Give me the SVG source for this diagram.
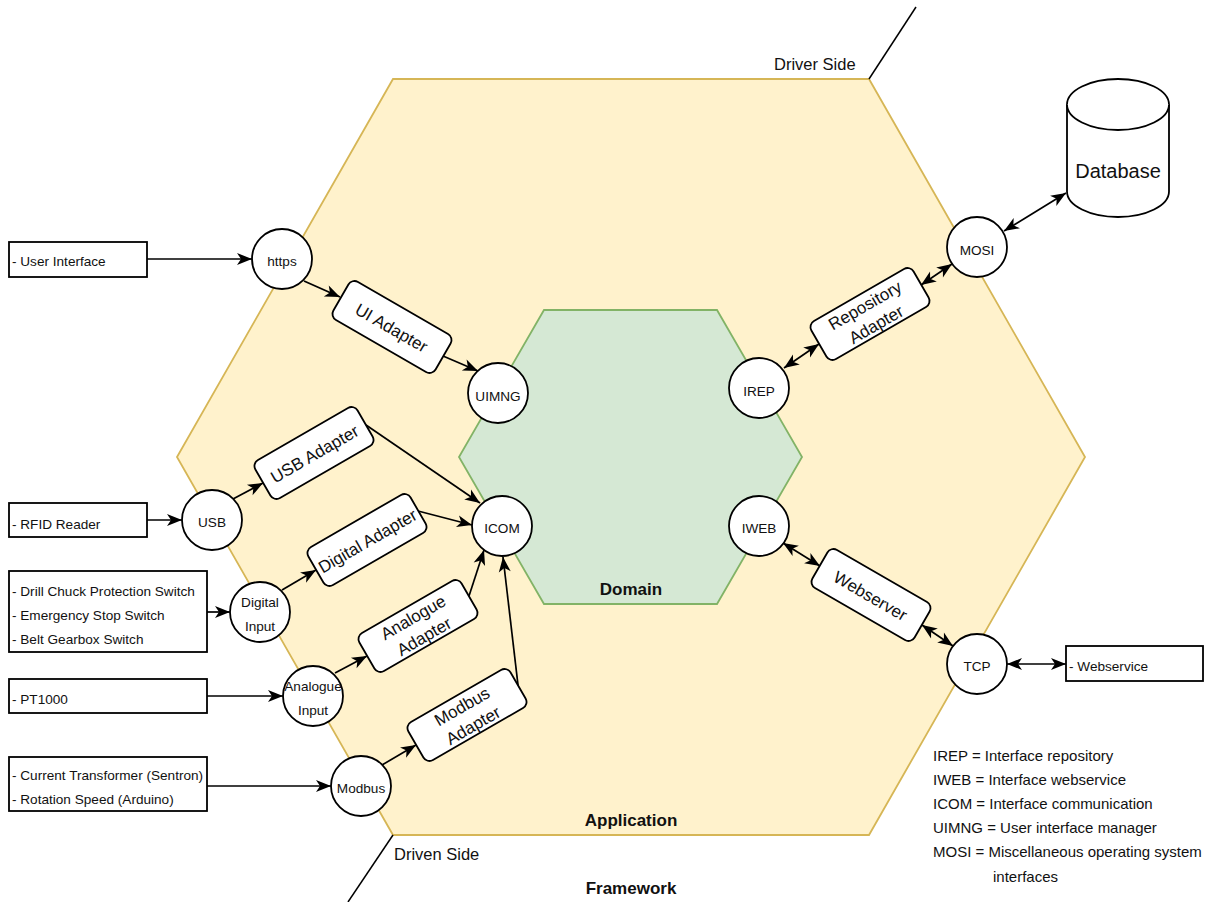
<svg xmlns="http://www.w3.org/2000/svg" width="1216" height="902" viewBox="0 0 1216 902">
<style>
text{font-family:"Liberation Sans",Arial,Helvetica,sans-serif;fill:#111}
.sm{font-size:13.6px}
.ad{font-size:17px}
.lb{font-size:16.5px}
.lg{font-size:15px}
.bd{font-size:17px;font-weight:bold}
.c{text-anchor:middle}
.node{fill:#fff;stroke:#000;stroke-width:1.8}
.conn{fill:none;stroke:#000;stroke-width:1.7}
</style>
<defs>
<marker id="arr" markerUnits="userSpaceOnUse" markerWidth="17" markerHeight="14" refX="15" refY="6" orient="auto-start-reverse" overflow="visible">
<path d="M0,0 L15,6 L0,12 L4,6 Z" fill="#000"/>
</marker>
</defs>
<rect width="1216" height="902" fill="#fff"/>

<g id="application">
<polygon points="393,79 869,79 1085,457 869,835 393,835 177,457" fill="#fff2cc" stroke="#d6b656" stroke-width="1.8"/>
<text class="bd c" x="631" y="826">Application</text>
</g>
<g id="domain">
<polygon points="544,310 717,310 802,457 717,604 544,604 459,457" fill="#d5e8d4" stroke="#82b366" stroke-width="1.8"/>
<text class="bd c" x="631" y="595">Domain</text>
</g>
<g id="sides">
<line x1="869" y1="79" x2="916" y2="7" stroke="#000" stroke-width="1.5"/>
<line x1="393" y1="835" x2="348" y2="902" stroke="#000" stroke-width="1.5"/>
<text class="lb" x="774" y="70">Driver Side</text>
<text class="lb" x="394" y="860">Driven Side</text>
<text class="bd c" x="631" y="894">Framework</text>
</g>

<g id="connectors">
<path class="conn" d="M147,259 L252,259" marker-end="url(#arr)"/>
<path class="conn" d="M304,281 L340,297" marker-end="url(#arr)"/>
<path class="conn" d="M443,356 L478,371" marker-end="url(#arr)"/>
<path class="conn" d="M147,520 L182,520" marker-end="url(#arr)"/>
<path class="conn" d="M233,499 L263,483" marker-end="url(#arr)"/>
<path class="conn" d="M366,425 L480,503" marker-end="url(#arr)"/>
<path class="conn" d="M207,612 L230,612" marker-end="url(#arr)"/>
<path class="conn" d="M282,590 L316,570" marker-end="url(#arr)"/>
<path class="conn" d="M418,511 L472,525" marker-end="url(#arr)"/>
<path class="conn" d="M207,696 L283,696" marker-end="url(#arr)"/>
<path class="conn" d="M335,673 L367,656" marker-end="url(#arr)"/>
<path class="conn" d="M469,596 L484,550" marker-end="url(#arr)"/>
<path class="conn" d="M207,786 L331,786" marker-end="url(#arr)"/>
<path class="conn" d="M382,765 L416,745" marker-end="url(#arr)"/>
<path class="conn" d="M518,685 L503,557" marker-end="url(#arr)"/>
<path class="conn" d="M784,368 L819,344" marker-start="url(#arr)" marker-end="url(#arr)"/>
<path class="conn" d="M921,285 L952,264" marker-start="url(#arr)" marker-end="url(#arr)"/>
<path class="conn" d="M1004,231 L1066,193" marker-start="url(#arr)" marker-end="url(#arr)"/>
<path class="conn" d="M783,543 L820,566" marker-start="url(#arr)" marker-end="url(#arr)"/>
<path class="conn" d="M922,625 L953,646" marker-start="url(#arr)" marker-end="url(#arr)"/>
<path class="conn" d="M1007,664 L1066,664" marker-start="url(#arr)" marker-end="url(#arr)"/>
</g>

<g id="user-interface-box">
<rect class="node" x="9" y="242" width="138" height="35"/>
<text class="sm" x="12" y="266">- User Interface</text>
</g>
<g id="rfid-box">
<rect class="node" x="9" y="503" width="138" height="34"/>
<text class="sm" x="12" y="529">- RFID Reader</text>
</g>
<g id="switches-box">
<rect class="node" x="9" y="571" width="198" height="81"/>
<text class="sm" x="12" y="596">- Drill Chuck Protection Switch</text>
<text class="sm" x="12" y="620">- Emergency Stop Switch</text>
<text class="sm" x="12" y="644">- Belt Gearbox Switch</text>
</g>
<g id="pt1000-box">
<rect class="node" x="9" y="679" width="198" height="34"/>
<text class="sm" x="12" y="704">- PT1000</text>
</g>
<g id="modbus-devices-box">
<rect class="node" x="9" y="757" width="198" height="54"/>
<text class="sm" x="12" y="780">- Current Transformer (Sentron)</text>
<text class="sm" x="12" y="804">- Rotation Speed (Arduino)</text>
</g>
<g id="webservice-box">
<rect class="node" x="1066" y="646" width="137" height="35"/>
<text class="sm" x="1069" y="671">- Webservice</text>
</g>

<g id="https"><circle class="node" cx="282" cy="259" r="30"/><text class="sm c" x="282" y="266">https</text></g>
<g id="usb"><circle class="node" cx="212" cy="520" r="30"/><text class="sm c" x="212" y="527">USB</text></g>
<g id="digital-input"><circle class="node" cx="260" cy="612" r="30"/><text class="sm c" x="260" y="607">Digital</text><text class="sm c" x="260" y="631">Input</text></g>
<g id="analogue-input"><circle class="node" cx="313" cy="696" r="30"/><text class="sm c" x="313" y="691">Analogue</text><text class="sm c" x="313" y="715">Input</text></g>
<g id="modbus"><circle class="node" cx="361" cy="786" r="30"/><text class="sm c" x="361" y="793">Modbus</text></g>
<g id="uimng"><circle class="node" cx="498" cy="393" r="30"/><text class="sm c" x="498" y="401">UIMNG</text></g>
<g id="icom"><circle class="node" cx="502" cy="526" r="30"/><text class="sm c" x="502" y="533">ICOM</text></g>
<g id="irep"><circle class="node" cx="759" cy="388" r="30"/><text class="sm c" x="759" y="396">IREP</text></g>
<g id="iweb"><circle class="node" cx="759" cy="526" r="30"/><text class="sm c" x="759" y="533">IWEB</text></g>
<g id="mosi"><circle class="node" cx="977" cy="247" r="30"/><text class="sm c" x="977" y="255">MOSI</text></g>
<g id="tcp"><circle class="node" cx="977" cy="664" r="30"/><text class="sm c" x="977" y="671">TCP</text></g>

<g id="ui-adapter" transform="translate(392,327) rotate(30)"><rect class="node" x="-59" y="-22" width="118" height="44" rx="7"/><text class="ad c" x="0" y="7">UI Adapter</text></g>
<g id="usb-adapter" transform="translate(314,453) rotate(-30)"><rect class="node" x="-59" y="-22" width="118" height="44" rx="7"/><text class="ad c" x="0" y="7">USB Adapter</text></g>
<g id="digital-adapter" transform="translate(367,540) rotate(-30)"><rect class="node" x="-59" y="-22" width="118" height="44" rx="7"/><text class="ad c" x="0" y="7">Digital Adapter</text></g>
<g id="analogue-adapter" transform="translate(418,626) rotate(-30)"><rect class="node" x="-59" y="-22" width="118" height="44" rx="7"/><text class="ad c" x="0" y="-4">Analogue</text><text class="ad c" x="0" y="18">Adapter</text></g>
<g id="modbus-adapter" transform="translate(467,715) rotate(-30)"><rect class="node" x="-59" y="-22" width="118" height="44" rx="7"/><text class="ad c" x="0" y="-4">Modbus</text><text class="ad c" x="0" y="18">Adapter</text></g>
<g id="repository-adapter" transform="translate(870,314) rotate(-30)"><rect class="node" x="-59" y="-22" width="118" height="44" rx="7"/><text class="ad c" x="0" y="-4">Repository</text><text class="ad c" x="0" y="18">Adapter</text></g>
<g id="webserver" transform="translate(871,595) rotate(30)"><rect class="node" x="-59" y="-22" width="118" height="44" rx="7"/><text class="ad c" x="0" y="7">Webserver</text></g>

<g id="database">
<path class="node" d="M1067,104.5 A51,25.5 0 0 1 1169,104.5 L1169,191.5 A51,25.5 0 0 1 1067,191.5 Z"/>
<path class="node" d="M1067,104.5 A51,25.5 0 0 0 1169,104.5" fill="none"/>
<text class="c" style="font-size:20px" x="1118" y="178">Database</text>
</g>

<g id="legend">
<text class="lg" x="933" y="761">IREP = Interface repository</text>
<text class="lg" x="933" y="785">IWEB = Interface webservice</text>
<text class="lg" x="933" y="809">ICOM = Interface communication</text>
<text class="lg" x="933" y="833">UIMNG = User interface manager</text>
<text class="lg" x="933" y="857">MOSI = Miscellaneous operating system</text>
<text class="lg" x="993" y="882">interfaces</text>
</g>
</svg>
